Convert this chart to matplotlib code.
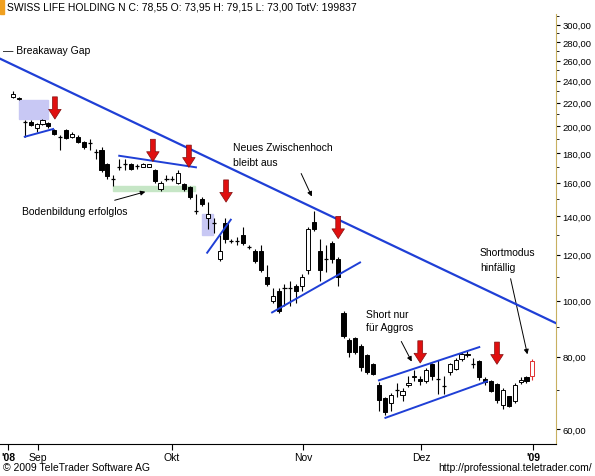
import numpy as np
import matplotlib.pyplot as plt
from matplotlib.patches import Rectangle
from matplotlib.ticker import FixedLocator, NullFormatter

plt.rcParams['font.family'] = ['Liberation Sans', 'DejaVu Sans']

# OHLC (one candle per trading day)
opens = [225, 223, 204, 204, 199, 202, 203, 197, 192, 197, 192, 192, 188, 187, 181, 182, 172, 162,
         170, 172, 172, 171, 170, 170, 168, 156, 162, 162, 160, 159, 157, 143, 150, 139, 136, 118,
         136, 127, 127, 130, 124, 122, 122, 110, 100, 104, 105, 105, 106, 106, 113, 137, 122, 118,
         126, 118, 95, 85.5, 86, 83.5, 80.4, 77.6, 71.5, 67.8, 66.5, 70.1, 68.8, 71.5, 73.7, 73.3,
         72.5, 77.6, 73.3, 71.2, 75.3, 76.3, 79.1, 80.4, 77.6, 78.5, 73.3, 72.5, 71.7, 66, 68.3, 67,
         72.3, 73.7, 73.95]
highs = [230, 225, 205, 205, 203, 206, 204, 198, 193, 198, 196, 193, 189, 190, 183, 184, 173, 165,
         176, 176, 173, 172, 173, 172, 169, 161, 165, 164, 168, 160, 158, 153, 151, 148, 139, 130,
         139, 128, 129, 134, 125, 123, 125, 115, 105, 105, 107, 108, 107, 111, 134, 143, 128, 125,
         127, 119, 96, 86, 86.5, 84, 81, 78, 72.3, 68, 69.2, 72, 70.5, 74, 76, 74,
         76.5, 78, 79, 74.2, 78, 79.5, 81.5, 82, 79.5, 79, 73.7, 73, 72, 70.5, 68.5, 72,
         73.7, 74, 79.15]
lows = [224, 222, 192, 200, 196, 201, 199, 193, 182, 190, 191, 187, 183, 182, 176, 167, 162, 158,
        168, 168, 168, 169, 170, 170, 160, 155, 161, 161, 159, 155, 150, 141, 146, 133, 131, 117,
        126, 126, 125, 125, 123, 116, 112, 106, 99, 95, 98, 98, 99, 104, 111, 132, 108, 112,
        116, 106, 86, 80, 81, 75.5, 74.8, 74.5, 64.5, 63.5, 64.5, 68, 67, 71, 72.5, 71.5,
        72, 73, 69, 69, 74.5, 75.8, 78.5, 80, 76.5, 73, 71.5, 69.5, 66.5, 65, 65.5, 66.5,
        71.8, 72, 73.0]
closes = [228, 224, 204, 201, 202, 205, 200, 194, 192, 191, 194, 188, 184, 187, 181, 168, 164, 162,
          170, 172, 169, 171, 172, 172, 161, 160, 162, 162, 166, 156, 151, 143, 147, 141, 136, 122,
          128, 127, 127, 126, 124, 117, 113, 107, 102, 96, 105, 105, 104, 110, 133, 133, 113, 118,
          118, 110, 87, 81.6, 81.6, 76.7, 75.3, 74.8, 67.3, 64.2, 68.8, 70.1, 69.9, 72, 74.2, 72.5,
          75.8, 74.2, 73.3, 71.2, 77.6, 78.8, 80.7, 81, 77.6, 73.7, 72.3, 69.9, 67.3, 70.1, 65.7, 71.5,
          72.8, 72.5, 78.55]

month_pos = [-0.8, 4.2, 26.9, 49.2, 69.2, 88.1]
month_labels = ["'08", "Sep", "Okt", "Nov", "Dez", "'09"]
price_ticks = [60, 80, 100, 120, 140, 160, 180, 200, 220, 240, 260, 280, 300]

blue = '#1f3fd6'
fig = plt.figure(figsize=(5.95, 4.77), dpi=100)
ax = fig.add_axes([0, 32 / 477, 556 / 595, 430 / 477])
ax.set_yscale('log')
ax.set_xlim(-2.2, 92.0)
ax.set_ylim(56.5, 313)

n = len(opens)
for i in range(n):
    o, h, l, c = opens[i], highs[i], lows[i], closes[i]
    last = i == n - 1
    edge = '#e03030' if last else 'black'
    ax.vlines(i, l, h, color=edge, lw=0.8, zorder=3)
    lo, hi = min(o, c), max(o, c)
    if hi / lo < 1.004:
        ax.hlines(o, i - 0.35, i + 0.35, color=edge, lw=0.9, zorder=4)
    else:
        fc = 'black' if c < o else 'white'
        ax.add_patch(Rectangle((i - 0.35, lo), 0.7, hi - lo, facecolor=fc, edgecolor=edge,
                               lw=0.7, zorder=4))

# shaded zones
ax.add_patch(Rectangle((1.0, 206), 4.9, 16, color='#c8c8f4', zorder=1))
ax.add_patch(Rectangle((16.9, 155), 13.9, 2.6, color='#c6e6c6', zorder=1))
ax.add_patch(Rectangle((32.0, 130), 1.9, 11, color='#c8c8f4', zorder=1))

# trend lines
lines = [((-2.2, 91.9), (262, 91.5)), ((2.0, 6.8), (192, 198)), ((18.0, 31.0), (178, 170)),
         ((32.9, 36.9), (121, 138)), ((43.9, 58.8), (95.4, 116.4)), ((62.0, 79.0), (72.8, 83.1)),
         ((63.1, 80.3), (62.7, 72.5))]
for xs, ys in lines:
    ax.plot(xs, ys, color=blue, lw=1.6 if xs[0] < 0 else 1.4, zorder=5)

# red arrows
arrows = [(7.1, 206), (23.7, 174), (29.8, 170), (36.1, 148), (55.1, 128), (69.0, 78.0), (82.0, 77.6)]
for ax_x, ax_y in arrows:
    ax.annotate('', xy=(ax_x, ax_y), xytext=(0, 16), textcoords='offset points',
                arrowprops=dict(width=3.5, headwidth=9, headlength=7, facecolor='#e01010',
                                edgecolor='#801010', lw=0.5), zorder=6)

ax.yaxis.tick_right()
ax.yaxis.set_major_locator(FixedLocator(price_ticks))
ax.yaxis.set_minor_locator(FixedLocator(np.arange(60, 320, 10)))
ax.yaxis.set_minor_formatter(NullFormatter())
ax.set_yticklabels([f'{v},00' for v in price_ticks])
ax.tick_params(axis='y', labelsize=6.8, length=3, pad=1.5, direction='out')
ax.tick_params(axis='y', which='minor', length=2)
ax.set_xticks(month_pos)
ax.set_xticklabels(month_labels)
for lab in ax.get_xticklabels():
    if lab.get_text() in ("'08", "'09"):
        lab.set_fontweight('bold')
ax.tick_params(axis='x', labelsize=7.5, length=4, pad=2)
for s in ['left', 'top']:
    ax.spines[s].set_visible(False)
ax.spines['right'].set_color('#c8b060')

def ftext(x, y, s, **kw):
    fig.text(x / 595, 1 - y / 477, s, fontsize=7.5, va='center', **kw)

def farrow(x0, y0, x1, y1):
    ax.annotate('', xy=(x1, 477 - y1), xytext=(x0, 477 - y0), xycoords='figure pixels',
                textcoords='figure pixels', arrowprops=dict(arrowstyle='-|>', color='black',
                                                            lw=0.7, mutation_scale=7))

fig.add_artist(Rectangle((0, 1 - 15 / 477), 4 / 595, 15 / 477, transform=fig.transFigure,
                         color='#f0a020'))
ftext(7, 7, 'SWISS LIFE HOLDING N C: 78,55 O: 73,95 H: 79,15 L: 73,00 TotV: 199837')
ftext(3, 51, '— Breakaway Gap')
ftext(22, 212, 'Bodenbildung erfolglos')
ftext(233, 148, 'Neues Zwischenhoch')
ftext(233, 163, 'bleibt aus')
ftext(366, 315, 'Short nur')
ftext(366, 328, 'für Aggros')
ftext(480, 253, 'Shortmodus')
ftext(480, 268, 'hinfällig')
ftext(3, 468, '© 2009 TeleTrader Software AG')
ftext(592, 468, 'http://professional.teletrader.com/', ha='right')
farrow(112, 202, 148, 192)
farrow(300, 172, 313, 200)
farrow(400, 340, 413, 365)
farrow(510, 277, 528, 358)

fig.savefig('out.png', dpi=100)
